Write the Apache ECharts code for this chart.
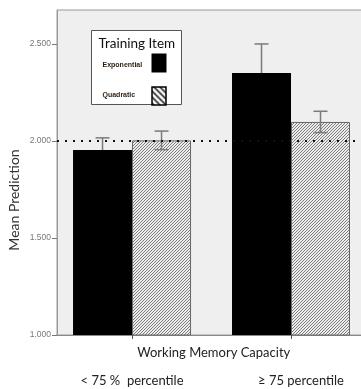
<!DOCTYPE html>
<html>
<head>
<meta charset="utf-8">
<script src="https://cdn.jsdelivr.net/npm/echarts@6/dist/echarts.min.js"></script>
<style>
  html, body { margin: 0; padding: 0; background: #fff; }
  #chart { width: 361px; height: 389px; }
</style>
</head>
<body>
<div id="chart"></div>
<script>
// Working memory groups and mean predictions per training item
const categories = ['< 75 %  percentile', '≥ 75 percentile'];
const exponentialMeans = [1.954, 2.350];
const exponentialErrors = [0.062, 0.150];
const quadraticMeans = [2.003, 2.098];
const quadraticErrors = [0.048, 0.055];
const yTickValues = [1.0, 1.5, 2.0, 2.5];
const referenceLevel = 2.0;
const seriesNames = ['Exponential', 'Quadratic'];
const legendTitle = 'Training Item';

const FONT = 'Lato, "Open Sans", "Liberation Sans", sans-serif';
const BAR_W = 59;
const CAP_W = 14;

// Fine diagonal hatching for the quadratic bars
function barHatch() {
  const c = document.createElement('canvas');
  c.width = 3; c.height = 3;
  const ctx = c.getContext('2d');
  ctx.fillStyle = '#ededed';
  ctx.fillRect(0, 0, 3, 3);
  ctx.fillStyle = '#7c7c7c';
  for (let i = 0; i < 3; i++) ctx.fillRect(2 - i, i, 1, 1);
  return { image: c, repeat: 'repeat' };
}

// Coarse back-slash hatching for the legend swatch
function legendHatch() {
  const s = 6;
  const c = document.createElement('canvas');
  c.width = s; c.height = s;
  const ctx = c.getContext('2d');
  ctx.fillStyle = '#fff';
  ctx.fillRect(0, 0, s, s);
  ctx.strokeStyle = '#000';
  ctx.lineWidth = 1.4;
  ctx.beginPath();
  ctx.moveTo(-1, -1); ctx.lineTo(s + 1, s + 1);
  ctx.moveTo(-1, s - 1); ctx.lineTo(1, s + 1);
  ctx.moveTo(s - 1, -1); ctx.lineTo(s + 1, 1);
  ctx.stroke();
  return { image: c, repeat: 'repeat' };
}

function errorBars(side) {
  return function (params, api) {
    const x = api.value(0), y = api.value(1), e = api.value(2);
    const top = api.coord([x, y + e]);
    const bot = api.coord([x, y - e]);
    const cx = top[0] + side * BAR_W / 2;
    const style = { stroke: '#7a7a7a', lineWidth: 1.5 };
    return {
      type: 'group',
      children: [
        { type: 'line', shape: { x1: cx, y1: top[1], x2: cx, y2: bot[1] }, style },
        { type: 'line', shape: { x1: cx - CAP_W / 2, y1: top[1], x2: cx + CAP_W / 2, y2: top[1] }, style },
        { type: 'line', shape: { x1: cx - CAP_W / 2, y1: bot[1], x2: cx + CAP_W / 2, y2: bot[1] }, style }
      ]
    };
  };
}

const idx = categories.map((_, i) => i);
const chart = echarts.init(document.getElementById('chart'), null, { renderer: 'canvas' });

// Legend box drawn as a small group: title, labels and swatches
const legendGroup = {
  type: 'group', left: 91, top: 30, z: 100,
  children: [
    { type: 'rect', shape: { x: 0, y: 0, width: 90, height: 74 },
      style: { fill: '#fff', stroke: '#555', lineWidth: 1 } },
    { type: 'text', x: 7, y: 13,
      style: { text: legendTitle, fontSize: 13.5, fontFamily: FONT, fill: '#111', verticalAlign: 'middle' } },
    { type: 'text', x: 11, y: 35,
      style: { text: seriesNames[0], fontSize: 7, fontWeight: 'bold', fontFamily: '"Liberation Sans", sans-serif', fill: '#2b1d0e', verticalAlign: 'middle' } },
    { type: 'rect', shape: { x: 60, y: 23, width: 15, height: 19 }, style: { fill: '#000' } },
    { type: 'text', x: 11, y: 65,
      style: { text: seriesNames[1], fontSize: 7, fontWeight: 'bold', fontFamily: '"Liberation Sans", sans-serif', fill: '#2b1d0e', verticalAlign: 'middle' } },
    { type: 'rect', shape: { x: 60.5, y: 56.5, width: 14, height: 18 },
      style: { fill: legendHatch(), stroke: '#000', lineWidth: 1.5 } }
  ]
};

chart.setOption({
  animation: false,
  backgroundColor: '#fff',
  grid: {
    left: 57, top: 10, width: 313.5, height: 325,
    outerBoundsMode: 'none',
    show: true, backgroundColor: '#efefef', borderColor: '#9a9a9a', borderWidth: 1
  },
  graphic: [
    legendGroup,
    { type: 'text', x: 14, y: 200, rotation: Math.PI / 2, z: 100,
      style: { text: 'Mean Prediction', fontSize: 14, fontFamily: FONT, fill: '#333', align: 'center', verticalAlign: 'middle' } }
  ],
  xAxis: {
    type: 'value',
    min: -0.472, max: 1.5,
    splitLine: { show: false },
    axisLine: { show: true, onZero: false, lineStyle: { color: '#8a8a8a' } },
    axisTick: { show: true, customValues: idx, length: 4, lineStyle: { color: '#555' } },
    axisLabel: {
      customValues: idx, margin: 39, fontSize: 13, color: '#222', fontFamily: FONT,
      formatter: v => {
        const i = Math.round(v);
        return i === 1 ? '{shifted|' + categories[i] + '}' : categories[i];
      },
      rich: { shifted: { fontSize: 13, color: '#222', fontFamily: FONT, padding: [0, 0, 0, 20] } }
    },
    name: 'Working Memory Capacity', nameLocation: 'middle', nameGap: 11,
    nameMoveOverlap: false,
    nameTextStyle: { fontSize: 13, color: '#222', fontFamily: FONT }
  },
  yAxis: {
    type: 'value',
    min: 1.0, max: 2.675,
    splitLine: { show: false },
    axisLine: { show: true, onZero: false, lineStyle: { color: '#9a9a9a' } },
    axisTick: { show: true, customValues: yTickValues, length: 5, lineStyle: { color: '#777' } },
    axisLabel: {
      customValues: yTickValues, margin: 6, fontSize: 8.5, color: '#777', fontFamily: '"Liberation Sans", sans-serif',
      formatter: v => v.toFixed(3)
    }
  },
  series: [
    {
      name: seriesNames[0], type: 'bar', z: 2,
      barWidth: BAR_W, barGap: '0%',
      itemStyle: { color: '#000' },
      data: idx.map(i => [i, exponentialMeans[i]])
    },
    {
      name: seriesNames[1], type: 'bar', z: 2,
      barWidth: BAR_W, barGap: '0%',
      itemStyle: { color: barHatch(), borderColor: '#666', borderWidth: 1 },
      data: idx.map(i => [i, quadraticMeans[i]])
    },
    {
      name: 'Exponential error', type: 'custom', z: 1,
      renderItem: errorBars(-1),
      encode: { x: 0, y: 1 },
      data: idx.map(i => [i, exponentialMeans[i], exponentialErrors[i]])
    },
    {
      name: 'Quadratic error', type: 'custom', z: 3,
      renderItem: errorBars(1),
      encode: { x: 0, y: 1 },
      data: idx.map(i => [i, quadraticMeans[i], quadraticErrors[i]]),
      markLine: {
        silent: true, symbol: 'none', label: { show: false },
        lineStyle: { color: '#111', width: 2, type: [2, 6] },
        data: [{ yAxis: referenceLevel }]
      }
    }
  ]
});
</script>
</body>
</html>
